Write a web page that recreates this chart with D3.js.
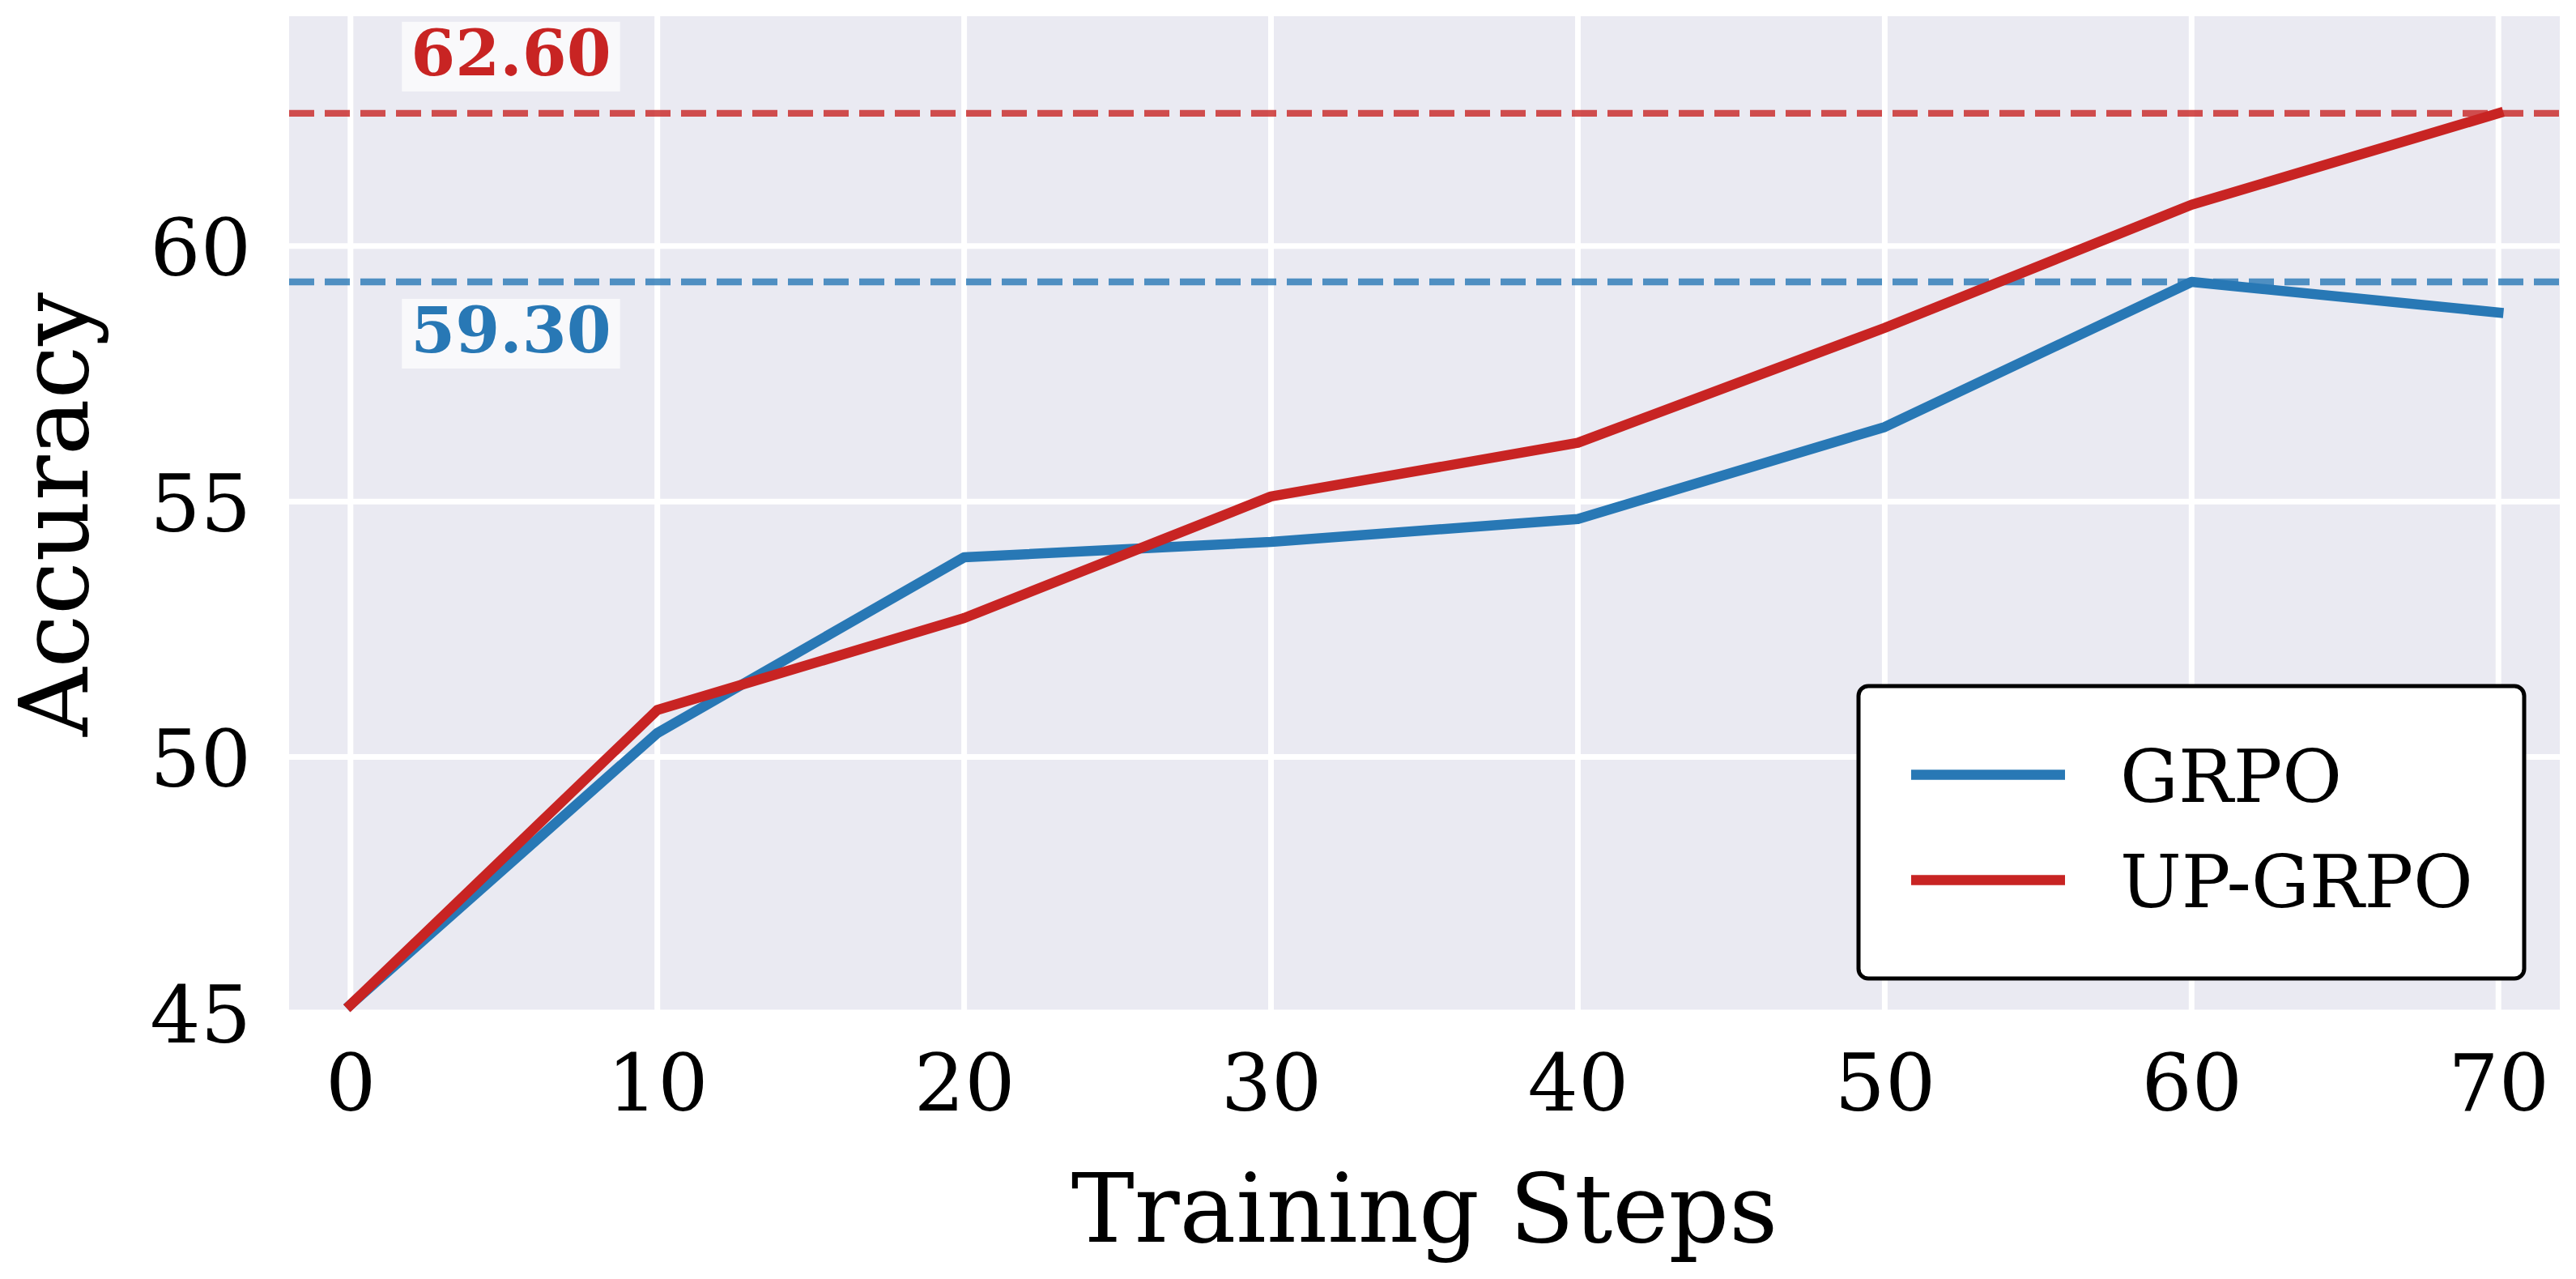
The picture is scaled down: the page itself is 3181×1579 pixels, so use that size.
<!DOCTYPE html>
<html>
<head>
<meta charset="utf-8">
<script src="https://cdn.jsdelivr.net/npm/d3@7"></script>
<style>
  html, body { margin: 0; padding: 0; background: #ffffff; }
  svg { display: block; }
  text { font-family: "DejaVu Serif", serif; }
</style>
</head>
<body>
<svg id="chart" width="3181" height="1579"></svg>
<script>
// ---- data ----
const steps = [0, 10, 20, 30, 40, 50, 60, 70];
const grpo = [45.15, 50.47, 53.91, 54.21, 54.66, 56.46, 59.30, 58.70];
const upGrpo = [45.15, 50.92, 52.72, 55.10, 56.15, 58.40, 60.81, 62.60];
const seriesNames = ["GRPO", "UP-GRPO"];
const xTicks = [0, 10, 20, 30, 40, 50, 60, 70];
const yTicks = [45, 50, 55, 60];
const xLabel = "Training Steps";
const yLabel = "Accuracy";

// ---- layout ----
const W = 3181, H = 1579;
const plot = { left: 357, right: 3161, top: 20, bottom: 1250 };
const colors = { GRPO: "#2878B5", "UP-GRPO": "#C82423" };
const svg = d3.select("#chart");

const x = d3.scaleLinear().domain([-2, 72]).range([plot.left, plot.right]);
const y = d3.scaleLinear().domain([45, 64.5]).range([plot.bottom, plot.top]);

svg.append("rect").attr("x", 0).attr("y", 0).attr("width", W).attr("height", H).attr("fill", "#ffffff");

const defs = svg.append("defs");
defs.append("clipPath").attr("id", "clip")
  .append("rect")
  .attr("x", plot.left).attr("y", plot.top)
  .attr("width", plot.right - plot.left).attr("height", plot.bottom - plot.top);

// plot background
svg.append("rect")
  .attr("x", plot.left).attr("y", plot.top)
  .attr("width", plot.right - plot.left).attr("height", plot.bottom - plot.top)
  .attr("fill", "#EAEAF2");

const g = svg.append("g").attr("clip-path", "url(#clip)");

// grid
g.selectAll("line.gx").data(xTicks).enter().append("line")
  .attr("x1", d => x(d)).attr("x2", d => x(d))
  .attr("y1", plot.top).attr("y2", plot.bottom)
  .attr("stroke", "#ffffff").attr("stroke-width", 7);
g.selectAll("line.gy").data(yTicks).enter().append("line")
  .attr("y1", d => y(d)).attr("y2", d => y(d))
  .attr("x1", plot.left).attr("x2", plot.right)
  .attr("stroke", "#ffffff").attr("stroke-width", 7);

// axes (tick labels only, via d3 axes)
const xAxis = d3.axisBottom(x).tickValues(xTicks).tickSize(0).tickPadding(0).tickFormat(d3.format("d"));
const yAxis = d3.axisLeft(y).tickValues(yTicks).tickSize(0).tickPadding(0).tickFormat(d3.format("d"));

const gx = svg.append("g").attr("transform", `translate(0,${plot.bottom})`).call(xAxis);
gx.select(".domain").remove();
gx.selectAll("text")
  .attr("font-family", "DejaVu Serif").attr("font-size", 98).attr("fill", "#000")
  .attr("dy", null).attr("y", 121);

const gy = svg.append("g").attr("transform", `translate(${plot.left},0)`).call(yAxis);
gy.select(".domain").remove();
gy.selectAll("text")
  .attr("font-family", "DejaVu Serif").attr("font-size", 98).attr("fill", "#000")
  .attr("dy", null).attr("x", -47).attr("y", 36).attr("text-anchor", "end");

// axis labels
svg.append("text")
  .attr("x", (plot.left + plot.right) / 2).attr("y", 1533)
  .attr("text-anchor", "middle").attr("font-size", 117).attr("fill", "#000")
  .text(xLabel);
svg.append("text")
  .attr("transform", `translate(108,${(plot.top + plot.bottom) / 2}) rotate(-90)`)
  .attr("text-anchor", "middle").attr("font-size", 117).attr("fill", "#000")
  .text(yLabel);

// reference (max) lines
const series = [
  { name: seriesNames[0], values: grpo },
  { name: seriesNames[1], values: upGrpo }
];
const refs = series.map(s => ({ name: s.name, value: d3.max(s.values) }));

g.selectAll("line.ref").data(refs).enter().append("line")
  .attr("x1", plot.left).attr("x2", plot.right)
  .attr("y1", d => y(d.value)).attr("y2", d => y(d.value))
  .attr("stroke", d => colors[d.name]).attr("stroke-opacity", 0.8)
  .attr("stroke-width", 8.3).attr("stroke-dasharray", "31,13");

// data lines
const line = d3.line().x((d, i) => x(steps[i])).y(d => y(d));
g.selectAll("path.series").data(series).enter().append("path")
  .attr("d", d => line(d.values))
  .attr("fill", "none")
  .attr("stroke", d => colors[d.name])
  .attr("stroke-width", 12.5)
  .attr("stroke-linejoin", "round")
  .attr("stroke-linecap", "square");

// reference value labels
const labelStep = 5.23;
const labelOffsets = { GRPO: 87, "UP-GRPO": -47 };
refs.forEach(r => {
  const by = y(r.value) + labelOffsets[r.name];
  const lg = svg.append("g");
  const rect = lg.append("rect").attr("fill", "#ffffff").attr("fill-opacity", 0.7);
  const t = lg.append("text")
    .attr("x", x(labelStep)).attr("y", by)
    .attr("text-anchor", "middle")
    .attr("font-size", 79).attr("font-weight", "bold")
    .attr("fill", colors[r.name])
    .text(r.value.toFixed(2));
  const bb = t.node().getBBox();
  rect.attr("x", bb.x - 11).attr("width", bb.width + 22)
    .attr("y", by - 66).attr("height", 86);
});

// legend
const leg = svg.append("g");
leg.append("rect")
  .attr("x", 2295).attr("y", 847).attr("width", 822).attr("height", 361)
  .attr("rx", 12).attr("ry", 12)
  .attr("fill", "#ffffff").attr("stroke", "#000").attr("stroke-width", 5);
const legRows = leg.selectAll("g.row").data(seriesNames).enter().append("g")
  .attr("transform", (d, i) => `translate(0,${956.5 + i * 130})`);
legRows.append("line")
  .attr("x1", 2360).attr("x2", 2550).attr("y1", 0).attr("y2", 0)
  .attr("stroke", d => colors[d]).attr("stroke-width", 12.5);
legRows.append("text")
  .attr("x", 2618).attr("y", 33)
  .attr("font-size", 90).attr("fill", "#000")
  .text(d => d);
</script>
</body>
</html>
